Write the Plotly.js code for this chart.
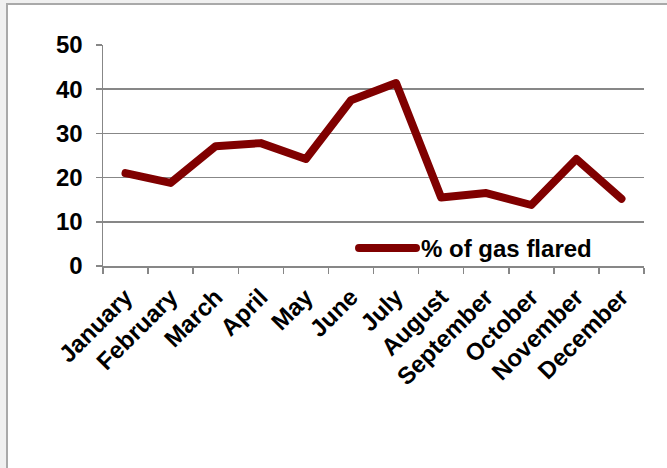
<!DOCTYPE html>
<html>
<head>
<meta charset="utf-8">
<script src="https://cdn.plot.ly/plotly-3.0.1.min.js"></script>
<style>
  html, body { margin: 0; padding: 0; background: #f0f0f0; overflow: hidden; }
  #frame { position: absolute; left: 6px; top: 3px; width: 661px; height: 465px;
           border-left: 2px solid #a9a9a9; border-top: 2px solid #a9a9a9; background: #ffffff; }
  #chart { width: 659px; height: 463px; }
  .scatterlayer path.js-line, .legendlines path { stroke-linejoin: round; stroke-linecap: round; }
</style>
</head>
<body>
<div id="frame"><div id="chart"></div></div>
<script>
const months = ["January", "February", "March", "April", "May", "June", "July",
                "August", "September", "October", "November", "December"];
const gasFlared = [21.0, 18.8, 27.1, 27.8, 24.2, 37.5, 41.4, 15.5, 16.5, 13.8, 24.2, 15.2];
const seriesName = "% of gas flared";
const yTicks = [0, 10, 20, 30, 40, 50];

const fontFamily = '"Liberation Sans", Arial, Helvetica, sans-serif';
const gridColor = '#878787';

const trace = {
  type: 'scatter',
  mode: 'lines',
  x: months,
  y: gasFlared,
  name: seriesName,
  line: { color: '#800000', width: 8 },
  hoverinfo: 'x+y'
};

const layout = {
  width: 659,
  height: 463,
  margin: { l: 95, r: 23, t: 40, b: 202 },
  paper_bgcolor: '#ffffff',
  plot_bgcolor: '#ffffff',
  font: { family: fontFamily, color: '#000000', weight: 700 },
  showlegend: true,
  legend: {
    x: 0.464, y: 0.08, xanchor: 'left', yanchor: 'middle',
    bgcolor: 'rgba(0,0,0,0)',
    font: { family: fontFamily, size: 24, color: '#000000', weight: 700 },
    itemwidth: 57
  },
  xaxis: {
    type: 'category',
    range: [-0.5, 11.5],
    tickson: 'boundaries',
    ticks: 'outside',
    ticklen: 6,
    tickcolor: gridColor,
    tickwidth: 1.5,
    showline: true,
    linecolor: gridColor,
    linewidth: 1.5,
    showgrid: false,
    zeroline: false,
    tickangle: -45,
    ticklabelstandoff: 6,
    tickfont: { family: fontFamily, size: 24, color: '#000000', weight: 700 },
    fixedrange: true
  },
  yaxis: {
    range: [0, 50],
    tickvals: yTicks,
    ticktext: yTicks.map(String),
    ticks: 'outside',
    ticklen: 6,
    tickcolor: gridColor,
    tickwidth: 1.5,
    showline: true,
    linecolor: gridColor,
    linewidth: 1.5,
    showgrid: true,
    gridcolor: gridColor,
    gridwidth: 1.5,
    zeroline: false,
    ticklabelstandoff: 8,
    tickfont: { family: fontFamily, size: 24, color: '#000000', weight: 700 },
    fixedrange: true
  }
};

Plotly.newPlot('chart', [trace], layout, { displayModeBar: false, staticPlot: true });
</script>
</body>
</html>
